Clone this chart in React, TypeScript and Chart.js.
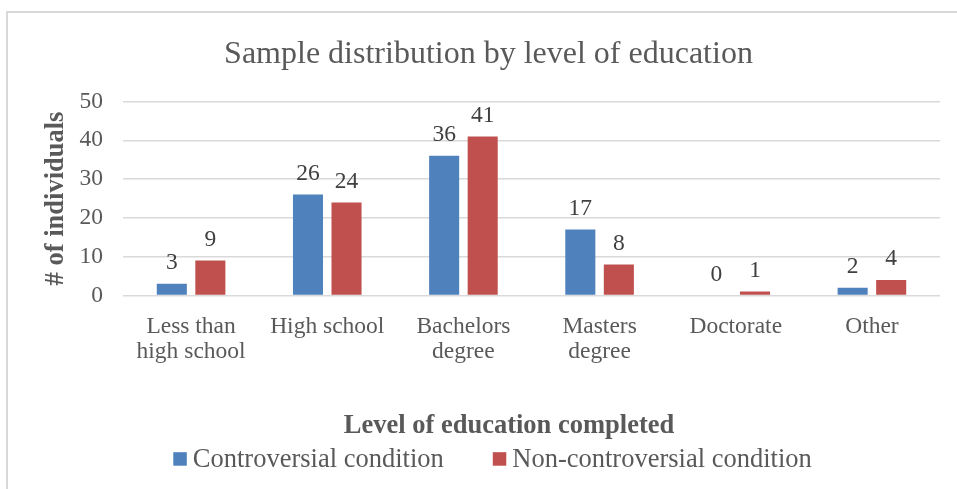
import React, { useEffect, useRef } from 'react';
import { Chart, registerables } from 'chart.js';

Chart.register(...registerables);

// Data
const categories: (string | string[])[] = [
  ['Less than', 'high school'],
  'High school',
  ['Bachelors', 'degree'],
  ['Masters', 'degree'],
  'Doctorate',
  'Other',
];
const controversial = [3, 26, 36, 17, 0, 2];
const nonControversial = [9, 24, 41, 8, 1, 4];
const seriesNames = ['Controversial condition', 'Non-controversial condition'];
const seriesColors = ['#4f81bd', '#c0504d'];
const yMax = 50;
const yStep = 10;
const chartTitle = 'Sample distribution by level of education';
const xAxisTitle = 'Level of education completed';
const yAxisTitle = '# of individuals';

const SERIF = '"Liberation Serif", "Times New Roman", serif';
const TEXT = '#595959';

// Value labels above each bar
const valueLabels = {
  id: 'valueLabels',
  afterDatasetsDraw(chart: any) {
    const { ctx } = chart;
    ctx.save();
    ctx.font = `23.5px ${SERIF}`;
    ctx.fillStyle = '#404040';
    ctx.textAlign = 'center';
    ctx.textBaseline = 'alphabetic';
    chart.data.datasets.forEach((ds: any, i: number) => {
      const meta = chart.getDatasetMeta(i);
      meta.data.forEach((bar: any, j: number) => {
        ctx.fillText(String(ds.data[j]), bar.x, bar.y - 14.5);
      });
    });
    ctx.restore();
  },
};

// Chart title, horizontal axis title and legend
const decorations = {
  id: 'decorations',
  afterDraw(chart: any) {
    const { ctx } = chart;
    ctx.save();
    ctx.fillStyle = TEXT;
    ctx.textBaseline = 'alphabetic';

    ctx.textAlign = 'center';
    ctx.font = `32px ${SERIF}`;
    ctx.fillText(chartTitle, 488.5, 63.3);

    ctx.font = `bold 26.5px ${SERIF}`;
    ctx.fillText(xAxisTitle, 509, 433.3);

    ctx.textAlign = 'left';
    ctx.font = `26.5px ${SERIF}`;
    let x = 173.3;
    const box = 13.5;
    chart.data.datasets.forEach((ds: any) => {
      ctx.fillStyle = ds.backgroundColor;
      ctx.fillRect(x, 452.2, box, box);
      x += box + 6;
      ctx.fillStyle = TEXT;
      ctx.fillText(ds.label, x, 466.7);
      x += ctx.measureText(ds.label).width + 49;
    });
    ctx.restore();
  },
};

export default function App() {
  const canvasRef = useRef<HTMLCanvasElement | null>(null);

  useEffect(() => {
    const canvas = canvasRef.current;
    if (!canvas) return;
    const chart = new Chart(canvas, {
      type: 'bar',
      data: {
        labels: categories,
        datasets: [
          {
            label: seriesNames[0],
            data: controversial,
            backgroundColor: seriesColors[0],
            categoryPercentage: 0.566,
            barPercentage: 0.78,
          },
          {
            label: seriesNames[1],
            data: nonControversial,
            backgroundColor: seriesColors[1],
            categoryPercentage: 0.566,
            barPercentage: 0.78,
          },
        ],
      },
      options: {
        animation: false,
        responsive: false,
        maintainAspectRatio: false,
        layout: { padding: { top: 101.5, right: 17, bottom: 103.5, left: 0 } },
        plugins: {
          legend: { display: false },
          title: { display: false },
          tooltip: { enabled: false },
        },
        scales: {
          x: {
            grid: { display: false },
            border: { display: false },
            ticks: {
              color: TEXT,
              padding: 11,
              maxRotation: 0,
              autoSkip: false,
              font: { family: SERIF, size: 23.5, lineHeight: 25 / 23.5 },
            },
            afterFit(scale: any) {
              scale.height = 90;
            },
          },
          y: {
            min: 0,
            max: yMax,
            border: { display: false },
            grid: { color: '#d9d9d9', lineWidth: 1.5, drawTicks: false },
            ticks: {
              stepSize: yStep,
              color: TEXT,
              padding: 20,
              font: { family: SERIF, size: 23.5 },
            },
            title: {
              display: true,
              text: yAxisTitle,
              color: TEXT,
              padding: { top: 40, bottom: 0 },
              font: { family: SERIF, size: 26.5, weight: 'bold' },
            },
            afterFit(scale: any) {
              scale.width = 123;
            },
          },
        },
      },
      plugins: [valueLabels, decorations],
    });
    return () => chart.destroy();
  }, []);

  return (
    <div
      style={{
        position: 'fixed',
        left: 0,
        top: 0,
        width: 957,
        height: 489,
        overflow: 'hidden',
        background: '#ffffff',
      }}
    >
      <div
        style={{
          position: 'absolute',
          left: 6,
          top: 11,
          width: 1200,
          height: 800,
          borderLeft: '2px solid #d9d9d9',
          borderTop: '2px solid #d9d9d9',
        }}
      />
      <canvas
        ref={canvasRef}
        width={957}
        height={489}
        style={{ position: 'absolute', left: 0, top: 0, width: 957, height: 489 }}
      />
    </div>
  );
}
